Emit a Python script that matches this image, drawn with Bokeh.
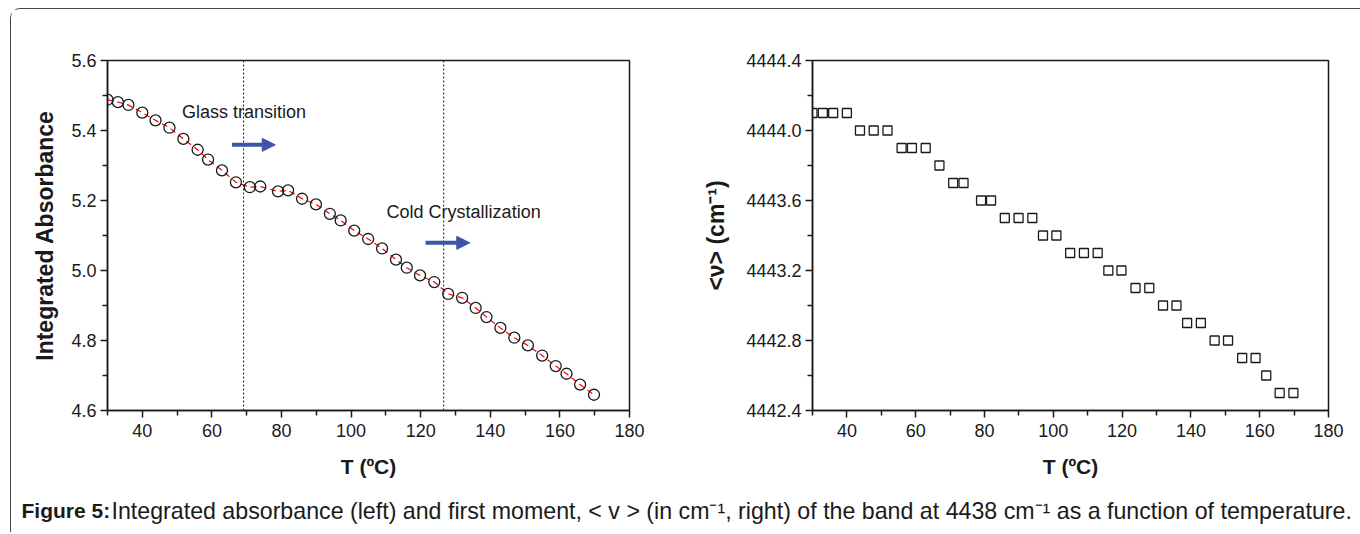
from bokeh.plotting import figure
from bokeh.layouts import row, column
from bokeh.models import (Range1d, FixedTicker, PrintfTickFormatter,
                          Span, Arrow, NormalHead, Label)
from bokeh.embed import file_html
from bokeh.resources import INLINE

# ---------------- data ----------------
temperature = [30, 33, 36, 40, 43.8, 47.8, 51.8, 55.9, 58.9, 62.9, 66.9, 70.9, 73.9,
               79, 81.9, 85.9, 89.9, 93.9, 97, 100.9, 104.9, 108.9, 112.9, 116,
               119.8, 123.9, 127.9, 131.9, 135.8, 138.9, 142.9, 146.9, 150.8,
               154.9, 158.8, 161.9, 165.8, 169.8]
absorbance = [5.488, 5.481, 5.473, 5.451, 5.429, 5.408, 5.376, 5.345, 5.317, 5.286,
              5.252, 5.238, 5.240, 5.226, 5.229, 5.205, 5.189, 5.162, 5.143, 5.114,
              5.090, 5.063, 5.031, 5.008, 4.986, 4.967, 4.933, 4.922, 4.893, 4.867,
              4.836, 4.808, 4.786, 4.757, 4.727, 4.705, 4.674, 4.645]
first_moment = [4444.1, 4444.1, 4444.1, 4444.1, 4444.0, 4444.0, 4444.0, 4443.9,
                4443.9, 4443.9, 4443.8, 4443.7, 4443.7, 4443.6, 4443.6, 4443.5,
                4443.5, 4443.5, 4443.4, 4443.4, 4443.3, 4443.3, 4443.3, 4443.2,
                4443.2, 4443.1, 4443.1, 4443.0, 4443.0, 4442.9, 4442.9, 4442.8,
                4442.8, 4442.7, 4442.7, 4442.6, 4442.5, 4442.5]
transition_T = [69.1, 126.6]

x_major = [40, 60, 80, 100, 120, 140, 160, 180]
x_minor = [30, 50, 70, 90, 110, 130, 150, 170]
yl_major = [4.6, 4.8, 5.0, 5.2, 5.4, 5.6]
yl_minor = [4.7, 4.9, 5.1, 5.3, 5.5]
yr_major = [4442.4, 4442.8, 4443.2, 4443.6, 4444.0, 4444.4]
yr_minor = [4442.6, 4443.0, 4443.4, 4443.8, 4444.2]

FONT = "Liberation Sans"
INK = "#1a1a1a"
BLUE = "#3c55a5"


def style_plot(p, xt, yt, yfmt):
    p.xgrid.visible = False
    p.ygrid.visible = False
    p.outline_line_color = INK
    p.outline_line_width = 1.5
    p.outline_line_alpha = 1
    for ax in (p.xaxis[0], p.yaxis[0]):
        ax.axis_line_color = INK
        ax.axis_line_width = 1.5
        ax.major_tick_line_color = INK
        ax.major_tick_line_width = 1.5
        ax.major_tick_out = 7
        ax.major_tick_in = 0
        ax.minor_tick_line_color = INK
        ax.minor_tick_line_width = 1.5
        ax.minor_tick_out = 5
        ax.minor_tick_in = 0
        ax.major_label_text_font = FONT
        ax.major_label_text_font_size = "18px"
        ax.major_label_text_color = INK
        ax.axis_label_text_font = FONT
        ax.axis_label_text_font_style = "bold"
        ax.axis_label_text_color = INK
    p.xaxis[0].axis_label_text_font_size = "21px"
    p.yaxis[0].axis_label_text_font_size = "23px"
    p.xaxis[0].ticker = xt
    p.yaxis[0].ticker = yt
    p.xaxis[0].formatter = PrintfTickFormatter(format="%d")
    p.yaxis[0].formatter = PrintfTickFormatter(format=yfmt)
    p.xaxis[0].major_label_standoff = 6
    p.yaxis[0].major_label_standoff = 4
    p.xaxis[0].axis_label_standoff = 15


# ---------------- left plot ----------------
p1 = figure(width=689, height=481, x_range=Range1d(30, 180), y_range=Range1d(4.6, 5.6),
            toolbar_location=None, output_backend="svg",
            min_border_left=96, min_border_right=71, min_border_top=51, min_border_bottom=80,
            x_axis_label="T (ºC)", y_axis_label="Integrated Absorbance")
style_plot(p1, FixedTicker(ticks=x_major, minor_ticks=x_minor),
           FixedTicker(ticks=yl_major, minor_ticks=yl_minor), "%.1f")
p1.yaxis[0].axis_label_standoff = 10

for t in transition_T:
    p1.add_layout(Span(location=t, dimension="height", line_color=INK,
                       line_width=1, line_dash="2 2"))

p1.line(temperature, absorbance, line_color="red", line_width=1.2, line_dash="6 4")
p1.scatter(temperature, absorbance, marker="circle", size=11, fill_color=None,
           line_color=INK, line_width=1.3)

p1.add_layout(Label(x=51.4, y=5.452, text="Glass transition", text_font=FONT,
                    text_font_size="18px", text_baseline="middle", text_color=INK))
p1.add_layout(Label(x=110.2, y=5.167, text="Cold Crystallization", text_font=FONT,
                    text_font_size="18px", text_baseline="middle", text_color=INK))
p1.add_layout(Arrow(x_start=65.8, y_start=5.359, x_end=78.2, y_end=5.359,
                    line_color=BLUE, line_width=4,
                    end=NormalHead(size=13, fill_color=BLUE, line_color=BLUE)))
p1.add_layout(Arrow(x_start=121.4, y_start=5.079, x_end=134.1, y_end=5.079,
                    line_color=BLUE, line_width=4,
                    end=NormalHead(size=13, fill_color=BLUE, line_color=BLUE)))

# ---------------- right plot ----------------
p2 = figure(width=658, height=481, x_range=Range1d(30, 180),
            y_range=Range1d(4442.4, 4444.4),
            toolbar_location=None, output_backend="svg",
            min_border_left=106, min_border_right=30, min_border_top=51, min_border_bottom=80,
            x_axis_label="T (ºC)", y_axis_label="<ν> (cm⁻¹)")
style_plot(p2, FixedTicker(ticks=x_major, minor_ticks=x_minor),
           FixedTicker(ticks=yr_major, minor_ticks=yr_minor), "%.1f")
p2.yaxis[0].axis_label_standoff = 14
p2.scatter(temperature, first_moment, marker="square", size=9, fill_color=None,
           line_color=INK, line_width=1.3)

# ---------------- caption ----------------
cap = figure(width=1349, height=42, x_range=Range1d(0, 1349), y_range=Range1d(0, 42),
             toolbar_location=None, output_backend="svg", min_border=0)
cap.axis.visible = False
cap.grid.visible = False
cap.outline_line_color = None
cap.add_layout(Label(x=10, y=22, text="Figure 5:", text_font=FONT, text_font_size="21px",
                     text_font_style="bold", text_baseline="middle", text_color=INK))
cap.add_layout(Label(x=100, y=22,
                     text="Integrated absorbance (left) and first moment, < v > (in cm⁻¹, right) "
                          "of the band at 4438 cm⁻¹ as a function of temperature.",
                     text_font=FONT, text_font_size="23.2px", text_baseline="middle",
                     text_color=INK))

layout = column(row(p1, p2), cap, margin=(8, 0, 0, 10),
                styles={"border-left": "1px solid #444", "border-top": "1px solid #444",
                        "border-top-left-radius": "10px"})

open("out.html", "w").write(file_html(layout, INLINE))
